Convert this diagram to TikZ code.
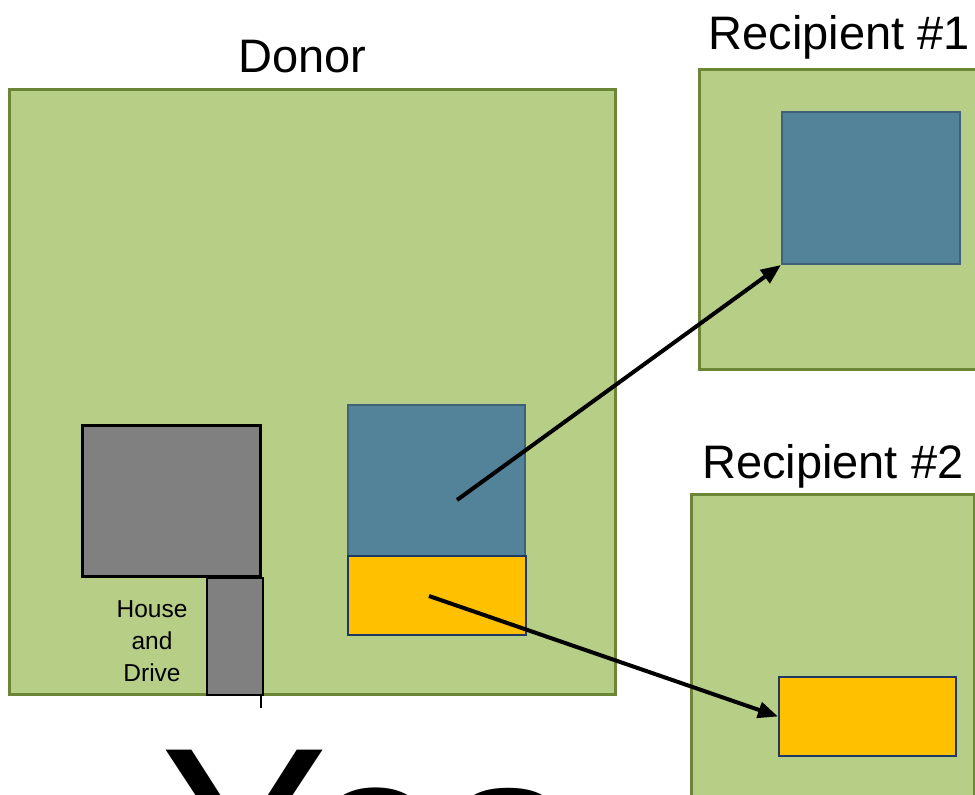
\documentclass[tikz,border=0pt]{standalone}
\usepackage{fontspec}
\setmainfont{Liberation Sans}
\usetikzlibrary{positioning,arrows.meta}

\definecolor{lotgreen}{RGB}{183,206,135}
\definecolor{lotedge}{RGB}{106,134,54}
\definecolor{partblue}{RGB}{82,131,153}
\definecolor{partedge}{RGB}{62,98,122}
\definecolor{partyellow}{RGB}{255,192,0}
\definecolor{navy}{RGB}{31,56,100}

\begin{document}
\begin{tikzpicture}[x=1pt,y=-1pt,
					lot/.style={rectangle,draw=lotedge,fill=lotgreen,line width=2.5pt,anchor=north west,inner sep=0pt},
					blue part/.style={rectangle,draw=partedge,fill=partblue,line width=2pt,anchor=north west,inner sep=0pt},
					yellow part/.style={rectangle,draw=navy,fill=partyellow,line width=2pt,anchor=north west,inner sep=0pt},
					building/.style={rectangle,draw=black,fill=gray,anchor=north west,inner sep=0pt},
					title/.style={font=\fontsize{47}{56}\selectfont,inner sep=0pt},
					move/.style={-{Triangle[length=20pt,width=16pt]},line width=4pt}]

  \useasboundingbox (0,0) rectangle (975,795);
  \clip (0,0) rectangle (975,795);

  % the three lots
  \node[lot,minimum width=606,minimum height=605] (donor) at (8,88) {};
  \node[lot,minimum width=280,minimum height=300] (lot1) at (698,68) {};
  \node[lot,minimum width=283,minimum height=320] (lot2) at (690,493) {};

  \node[title,above=16pt of donor.north,anchor=base,xshift=-10pt] (donorlabel) {Donor};
  \node[title,above=19pt of lot1.north,anchor=base] (lot1label) {Recipient \#1};
  \node[title,above=15pt of lot2.north,anchor=base] (lot2label) {Recipient \#2};

  % house and drive stay with the donor
  \node[building,line width=3pt,minimum width=178,minimum height=151] (house) at (81,424) {};
  \node[building,line width=1.5pt,minimum width=56,minimum height=117] (drive) at (206,577) {};
  \draw[line width=2pt] ([xshift=-3pt]drive.south east) -- ++(0,12);
  \node[align=center,inner sep=0pt,font=\fontsize{24.5}{32}\selectfont] (houselabel) at (152,641) {House\\and\\Drive};

  % parts that get split off
  \node[blue part,minimum width=177,minimum height=151] (part1) at (347,404) {};
  \node[yellow part,minimum width=178,minimum height=79] (part2) at (347,555) {};
  \node[blue part,minimum width=178,minimum height=152] (new1) at (781,111) {};
  \node[yellow part,minimum width=177,minimum height=79] (new2) at (778,676) {};

  \coordinate (from1) at (457,500);
  \coordinate (from2) at (429,596);
  \draw[move] (from1) -- (new1.south west);
  \draw[move] (from2) -- (new2.west);

  \node[anchor=base west,inner sep=0pt,font=\fontsize{252}{300}\selectfont] (answer) at (160,923) {Yes};
\end{tikzpicture}
\end{document}
